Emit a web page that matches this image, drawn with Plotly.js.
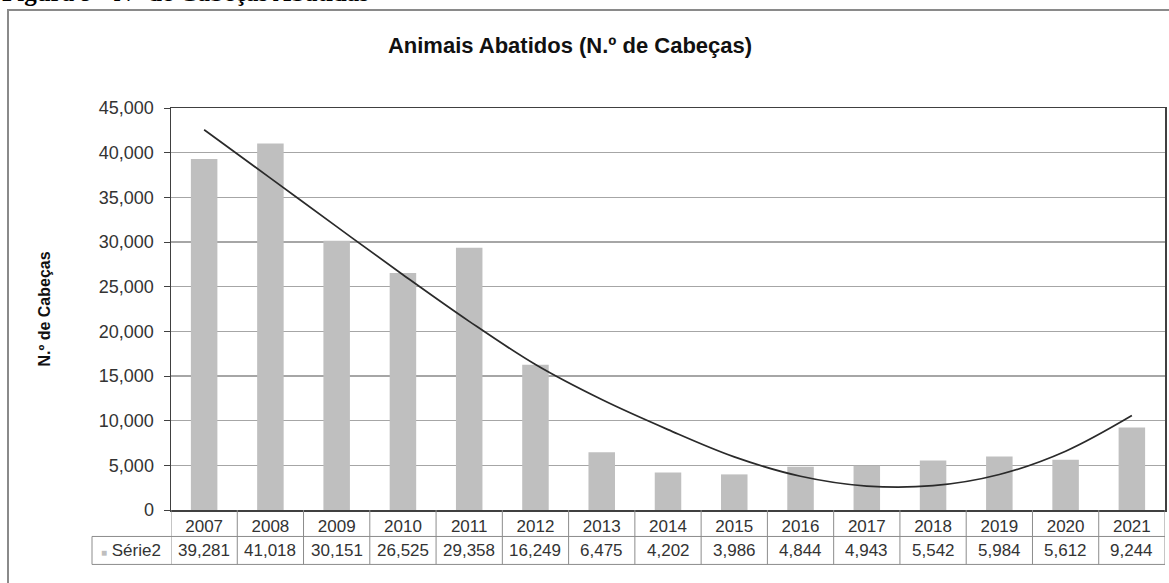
<!DOCTYPE html>
<html>
<head>
<meta charset="utf-8">
<script src="https://cdn.plot.ly/plotly-3.0.1.min.js"></script>
<style>html,body{margin:0;padding:0;background:#fff;}#chart{width:1169px;height:583px;}</style>
</head>
<body>
<div id="chart"></div>
<script>
// ---- data ----
const years = ['2007','2008','2009','2010','2011','2012','2013','2014','2015','2016','2017','2018','2019','2020','2021'];
const heads = [39281, 41018, 30151, 26525, 29358, 16249, 6475, 4202, 3986, 4844, 4943, 5542, 5984, 5612, 9244];
const trend = [42560, 37150, 31720, 26340, 21120, 16280, 12360, 9000, 5950, 3780, 2680, 2720, 3970, 6580, 10570];
const seriesName = 'Série2';
const chartTitle = 'Animais Abatidos (N.º de Cabeças)';
const yTitle = 'N.º de Cabeças';
const figCaption = 'Figura 9 - N° de Cabeças Abatidas';

// ---- layout helpers ----
const W = 1169, H = 583;
const L = 171, R = 1165, T = 108, B = 510.5;
const pw = R - L, ph = B - T;
const px = v => (v - L) / pw;      // pixel x -> paper
const py = v => (B - v) / ph;      // pixel y -> paper
const font = 'Arial, "Liberation Sans", sans-serif';
const lineCol = '#8c8c8c';

const shapes = [];
// outer chart frame
shapes.push({type:'rect', xref:'paper', yref:'paper', x0:px(8), x1:px(1200), y0:py(620), y1:py(10),
  line:{color:'#8a8a8a', width:2}, fillcolor:'rgba(0,0,0,0)', layer:'below'});
// table vertical lines at category boundaries
for (let i = 0; i <= years.length; i++) {
  shapes.push({type:'line', xref:'x', yref:'paper', x0:i-0.5, x1:i-0.5, y0:py(565), y1:0,
    line:{color:lineCol, width:1}});
}
// table horizontal lines
shapes.push({type:'line', xref:'paper', yref:'paper', x0:px(92), x1:1, y0:py(537), y1:py(537), line:{color:lineCol, width:1}});
shapes.push({type:'line', xref:'paper', yref:'paper', x0:px(92), x1:1, y0:py(565), y1:py(565), line:{color:lineCol, width:1}});
shapes.push({type:'line', xref:'paper', yref:'paper', x0:px(92), x1:px(92), y0:py(537), y1:py(565), line:{color:lineCol, width:1}});

const annotations = [];
heads.forEach((v, i) => {
  annotations.push({x: i, xref:'x', yref:'paper', y: py(551), yanchor:'middle', xanchor:'center',
    text: v.toLocaleString('en-US'), showarrow:false, font:{family:font, size:17, color:'#333'}});
});
annotations.push({xref:'paper', yref:'paper', x: px(131), y: py(551), xanchor:'center', yanchor:'middle', showarrow:false,
  text:'<span style="font-size:10px;color:#bfbfbf">■</span> ' + seriesName, font:{family:font, size:17, color:'#333'}});
annotations.push({xref:'paper', yref:'paper', x: px(0), y: py(8), xanchor:'left', yanchor:'bottom', showarrow:false,
  text:'<b>' + figCaption + '</b>', font:{family:'"Times New Roman", "Liberation Serif", serif', size:25, color:'#000'}});

const data = [
  {type:'bar', x: years, y: heads, name: seriesName, marker:{color:'#bfbfbf'}, hoverinfo:'x+y'},
  {type:'scatter', mode:'lines', x: years, y: trend, line:{color:'#2a2a2a', width:1.7, shape:'spline', smoothing:1}, hoverinfo:'skip'}
];

const layout = {
  width: W, height: H,
  margin: {l: L, r: W - R, t: T, b: H - B, pad: 0},
  paper_bgcolor:'#fff', plot_bgcolor:'#fff',
  showlegend:false,
  bargap: 0.6,
  title: {text:'<b>' + chartTitle + '</b>', x: 570 / W, xanchor:'center', y: 1 - 45 / H, yanchor:'middle',
    font:{family:font, size:22, color:'#111'}},
  xaxis: {type:'category', range:[-0.5, 14.5], showgrid:false, ticks:'', showline:true, mirror:true,
    linecolor:'#404040', linewidth:1.5, tickfont:{family:font, size:17, color:'#333'}, ticklabelstandoff:0, fixedrange:true},
  yaxis: {range:[0, 45000], dtick:5000, tickformat:',d', ticks:'outside', ticklen:6, tickcolor:'#404040',
    showline:true, mirror:true, linecolor:'#404040', linewidth:1.5,
    gridcolor:'#a6a6a6', gridwidth:1.5, zeroline:false, ticklabelstandoff:6,
    tickfont:{family:font, size:18, color:'#333'},
    title:{text:'<b>' + yTitle + '</b>', font:{family:font, size:16, color:'#111'}, standoff:44}},
  shapes: shapes,
  annotations: annotations
};

Plotly.newPlot('chart', data, layout, {displayModeBar:false, staticPlot:true});
</script>
</body>
</html>
